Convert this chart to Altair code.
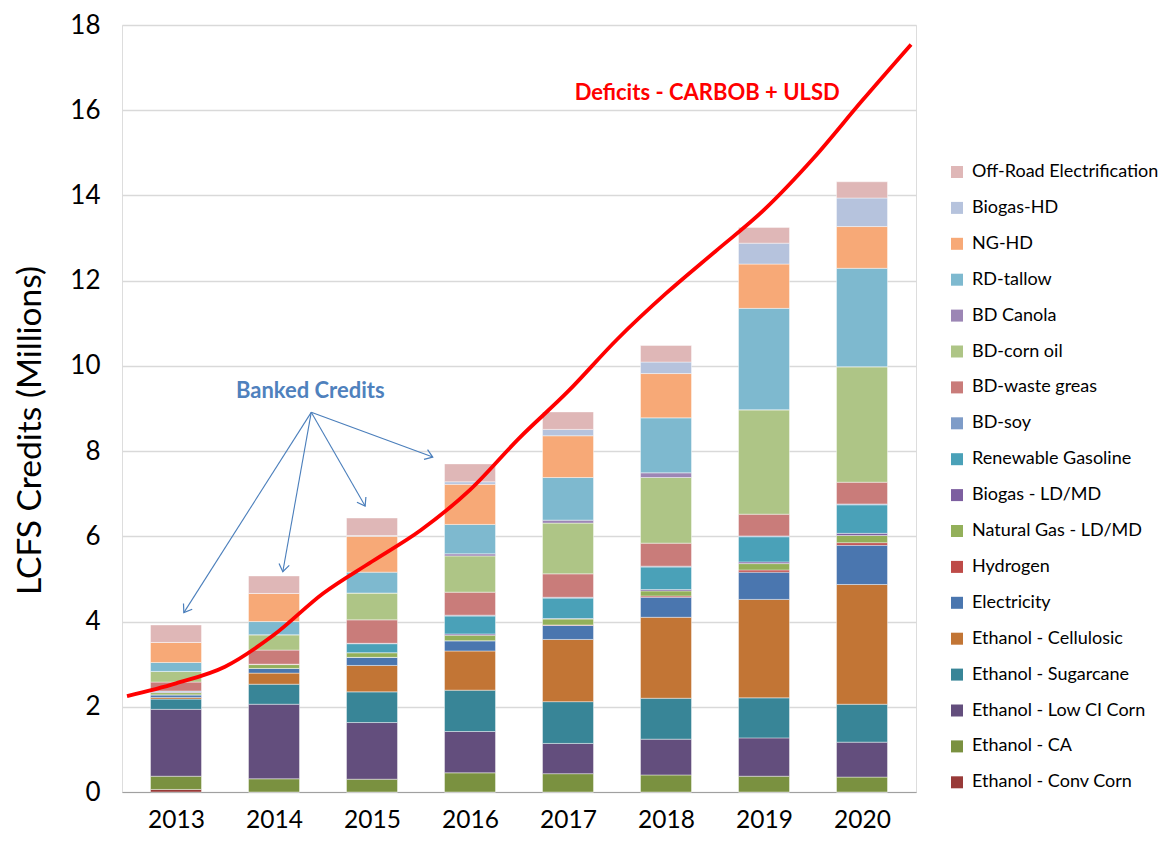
import math
import altair as alt
import pandas as pd

years = [2013, 2014, 2015, 2016, 2017, 2018, 2019, 2020]

# Stacked credit series (millions), bottom of the stack first
eth_conv_corn = [0.06, 0.00, 0.00, 0.00, 0.00, 0.00, 0.00, 0.00]
eth_ca = [0.31, 0.31, 0.30, 0.45, 0.43, 0.40, 0.37, 0.35]
eth_low_ci_corn = [1.57, 1.75, 1.33, 0.97, 0.71, 0.84, 0.90, 0.82]
eth_sugarcane = [0.24, 0.47, 0.72, 0.97, 0.98, 0.96, 0.94, 0.89]
eth_cellulosic = [0.04, 0.26, 0.62, 0.92, 1.46, 1.90, 2.31, 2.81]
electricity = [0.06, 0.11, 0.19, 0.24, 0.33, 0.47, 0.64, 0.92]
hydrogen = [0.00, 0.00, 0.00, 0.00, 0.01, 0.03, 0.05, 0.06]
natgas_ldmd = [0.05, 0.09, 0.11, 0.13, 0.14, 0.12, 0.15, 0.17]
biogas_ldmd = [0.02, 0.01, 0.00, 0.03, 0.01, 0.03, 0.04, 0.05]
renewable_gasoline = [0.00, 0.00, 0.21, 0.42, 0.48, 0.53, 0.59, 0.67]
bd_soy = [0.02, 0.00, 0.01, 0.02, 0.02, 0.02, 0.02, 0.02]
bd_waste_greas = [0.21, 0.33, 0.55, 0.54, 0.55, 0.54, 0.51, 0.51]
bd_corn_oil = [0.25, 0.36, 0.63, 0.85, 1.19, 1.54, 2.45, 2.71]
bd_canola = [0.00, 0.00, 0.00, 0.05, 0.07, 0.11, 0.00, 0.00]
rd_tallow = [0.21, 0.31, 0.49, 0.69, 1.00, 1.29, 2.38, 2.31]
ng_hd = [0.47, 0.66, 0.84, 0.94, 0.98, 1.04, 1.04, 0.98]
biogas_hd = [0.00, 0.00, 0.02, 0.06, 0.15, 0.27, 0.49, 0.67]
offroad_elec = [0.41, 0.41, 0.41, 0.42, 0.41, 0.39, 0.37, 0.38]

series_names = [
    "Ethanol - Conv Corn", "Ethanol - CA", "Ethanol - Low CI Corn",
    "Ethanol - Sugarcane", "Ethanol - Cellulosic", "Electricity", "Hydrogen",
    "Natural Gas - LD/MD", "Biogas - LD/MD", "Renewable Gasoline", "BD-soy",
    "BD-waste greas", "BD-corn oil", "BD Canola", "RD-tallow", "NG-HD",
    "Biogas-HD", "Off-Road Electrification",
]
series_values = [
    eth_conv_corn, eth_ca, eth_low_ci_corn, eth_sugarcane, eth_cellulosic,
    electricity, hydrogen, natgas_ldmd, biogas_ldmd, renewable_gasoline,
    bd_soy, bd_waste_greas, bd_corn_oil, bd_canola, rd_tallow, ng_hd,
    biogas_hd, offroad_elec,
]
series_colors = [
    "#983A38", "#7A9140", "#634E7D", "#388597", "#C27535", "#4A76AF",
    "#BE4B48", "#93B05A", "#7D5FA0", "#4AA1B8", "#7E9CC8", "#C97C7A",
    "#AEC586", "#9C86B5", "#7EB9CF", "#F7A977", "#B6C3DD", "#DFB7B7",
]

# Deficit curve (CARBOB + ULSD)
deficit_x = [2012.5, 2013, 2013.5, 2014, 2014.5, 2015, 2015.5, 2016, 2016.5,
             2017, 2017.5, 2018, 2018.5, 2019, 2019.5, 2020, 2020.5]
deficit_y = [2.25, 2.55, 2.94, 3.69, 4.66, 5.41, 6.15, 7.09, 8.30,
             9.40, 10.62, 11.70, 12.68, 13.66, 14.86, 16.22, 17.54]

# Annotations
banked_label = "Banked Credits"
banked_pos = (2014.37, 9.41)
arrow_origin = (2014.38, 8.91)
arrow_tip_x = [2013.08, 2014.09, 2014.93, 2015.62]
arrow_tip_y = [4.21, 5.17, 6.71, 7.86]
deficit_label = "Deficits  - CARBOB + ULSD"
deficit_pos = (2018.42, 16.41)

W, H = 794, 767
X_DOM = [2012.5, 2020.5]
Y_DOM = [0, 18]
FONT = "Lato"

rows = []
for idx, (name, vals) in enumerate(zip(series_names, series_values)):
    for yr, v in zip(years, vals):
        rows.append({"year": yr, "series": name, "value": v, "stack": idx})
bars_df = pd.DataFrame(rows)

legend_order = list(reversed(series_names))
legend_colors = list(reversed(series_colors))

xscale = alt.Scale(domain=X_DOM, nice=False, zero=False)
yscale = alt.Scale(domain=Y_DOM, nice=False)

bars = alt.Chart(bars_df).mark_bar(
    size=51, stroke="white", strokeWidth=0.6, strokeOpacity=0.7
).encode(
    x=alt.X("year:Q", scale=xscale,
            axis=alt.Axis(values=years, format="d", title=None, grid=False,
                          ticks=False, labelPadding=16, labelFontSize=24.5,
                          labelFont=FONT, labelColor="#000000",
                          domainColor="#A0A0A0", domainWidth=1.2)),
    y=alt.Y("value:Q", stack="zero", scale=yscale,
            axis=alt.Axis(values=list(range(0, 19, 2)),
                          title="LCFS Credits (Millions)", titleFontSize=33.5,
                          titleFont=FONT, titleFontWeight="normal",
                          titleColor="#000000", titlePadding=22, titleY=405,
                          labelFontSize=26, labelFont=FONT,
                          labelColor="#000000", ticks=False, labelPadding=22,
                          domain=False, gridColor="#D9D9D9", gridWidth=1.5)),
    color=alt.Color("series:N",
                    scale=alt.Scale(domain=legend_order, range=legend_colors),
                    sort=legend_order,
                    legend=alt.Legend(title=None, orient="none",
                                      legendX=826, legendY=138,
                                      symbolType="square", symbolSize=144,
                                      symbolStrokeWidth=0,
                                      labelFontSize=18, labelFont=FONT,
                                      labelColor="#000000", rowPadding=17.9,
                                      labelOffset=6, labelLimit=300)),
    order=alt.Order("stack:Q", sort="ascending"),
)

line_df = pd.DataFrame({"x": deficit_x, "y": deficit_y})
line = alt.Chart(line_df).mark_line(
    color="#FF0000", strokeWidth=3.8, interpolate="monotone", clip=True
).encode(x=alt.X("x:Q", scale=xscale), y=alt.Y("y:Q", scale=yscale))

# Arrows
px_per_x = W / (X_DOM[1] - X_DOM[0])
px_per_y = H / (Y_DOM[1] - Y_DOM[0])
arr_rows = []
for tx, ty in zip(arrow_tip_x, arrow_tip_y):
    dx = (tx - arrow_origin[0]) * px_per_x
    dy = -(ty - arrow_origin[1]) * px_per_y
    ang = math.degrees(math.atan2(dy, dx)) % 360
    arr_rows.append({"x0": arrow_origin[0], "y0": arrow_origin[1],
                     "x1": tx, "y1": ty, "angle": ang})
arr_df = pd.DataFrame(arr_rows)

arrow_lines = alt.Chart(arr_df).mark_rule(color="#4A7EBB", strokeWidth=1.1).encode(
    x=alt.X("x0:Q", scale=xscale), y=alt.Y("y0:Q", scale=yscale),
    x2="x1:Q", y2="y1:Q",
)
arrow_heads = alt.Chart(arr_df).mark_point(
    shape="M-1,-0.7L0,0L-1,0.7", filled=False, color="#4A7EBB",
    strokeWidth=1.2, size=220, opacity=1
).encode(
    x=alt.X("x1:Q", scale=xscale), y=alt.Y("y1:Q", scale=yscale),
    angle=alt.Angle("angle:Q", scale=None),
)

txt_df = pd.DataFrame({
    "x": [banked_pos[0], deficit_pos[0]],
    "y": [banked_pos[1], deficit_pos[1]],
    "label": [banked_label, deficit_label],
    "color": ["#4F81BD", "#FF0000"],
})
texts = alt.Chart(txt_df).mark_text(
    font=FONT, fontSize=22, fontWeight="bold", align="center", baseline="middle"
).encode(
    x=alt.X("x:Q", scale=xscale), y=alt.Y("y:Q", scale=yscale),
    text="label:N", color=alt.Color("color:N", scale=None),
)

chart = alt.layer(bars, line, arrow_lines, arrow_heads, texts).properties(
    width=W, height=H,
    padding={"left": 5, "top": 4, "right": 0, "bottom": 0},
).configure_view(
    stroke="#A0A0A0", strokeWidth=1.2
).configure(background="white")

chart.save("out.html", embed_options={"renderer": "svg", "actions": False})
